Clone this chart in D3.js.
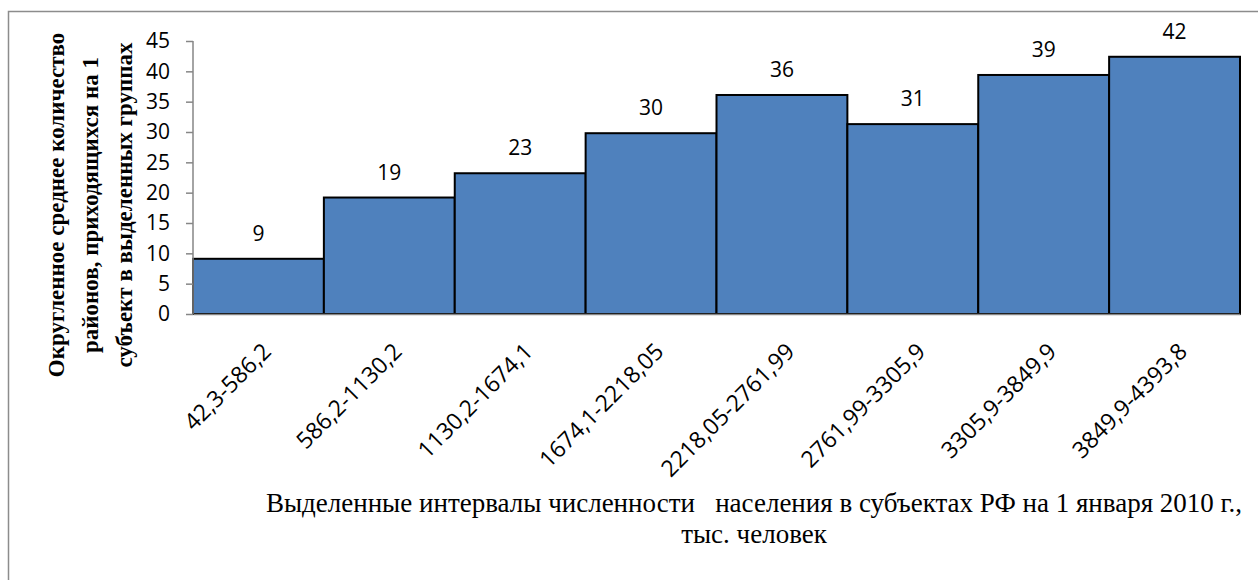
<html>
<head>
    <meta charset="utf-8">
    <script src="https://d3js.org/d3.v7.min.js"></script>
    <style>
        body { margin: 0; background: #fff; }
    </style>
</head>

<body>
    <div id="cont"></div>

    <script>
        // data
        var categories = ["42,3-586,2", "586,2-1130,2", "1130,2-1674,1", "1674,1-2218,05",
                          "2218,05-2761,99", "2761,99-3305,9", "3305,9-3849,9", "3849,9-4393,8"];
        var values = [9.1, 19.2, 23.2, 29.8, 36.1, 31.3, 39.4, 42.4];
        var yTicks = [0, 5, 10, 15, 20, 25, 30, 35, 40, 45];
        var yTitle = ["Округленное среднее количество", "районов, приходящихся на 1", "субъект в выделенных группах"];
        var xTitle = ["Выделенные интервалы численности\u00a0\u00a0\u00a0населения в субъектах РФ на 1 января 2010 г.,", "тыс. человек"];

        var W = 1258, H = 580;
        var plotL = 193, plotR = 1240, plotT = 41, plotB = 314;

        var svg = d3.select("#cont").append("svg")
            .attr("width", W)
            .attr("height", H);

        // chart frame
        svg.append("rect")
            .attr("x", 8.5).attr("y", 11.5)
            .attr("width", W + 20).attr("height", H + 20)
            .attr("fill", "none")
            .attr("stroke", "#8c8c8c")
            .attr("stroke-width", 1.5);

        var x = d3.scaleBand().domain(categories).range([plotL, plotR]).padding(0);
        var y = d3.scaleLinear().domain([0, 45]).range([plotB, plotT]);

        // bars
        svg.selectAll(".bar").data(values).enter()
            .append("rect").attr("class", "bar")
            .attr("x", function (d, i) { return x(categories[i]); })
            .attr("y", function (d) { return y(d); })
            .attr("width", x.bandwidth())
            .attr("height", function (d) { return y(0) - y(d); })
            .attr("fill", "#4f81bd")
            .attr("stroke", "#000")
            .attr("stroke-width", 2);

        // y axis
        var yAxis = svg.append("g")
            .attr("transform", "translate(" + plotL + ",0)")
            .call(d3.axisLeft(y).tickValues(yTicks).tickSize(7).tickPadding(16));
        yAxis.selectAll("line, path").attr("stroke", "#868686").attr("stroke-width", 1.5);
        yAxis.select(".domain").attr("d", "M0," + plotT + "V" + plotB);
        yAxis.selectAll("text")
            .attr("font-family", "'Open Sans', sans-serif")
            .attr("font-size", 21)
            .attr("fill", "#000");

        // x axis line
        var xAxis = svg.append("g")
            .attr("transform", "translate(0," + plotB + ")")
            .call(d3.axisBottom(x).tickSize(0).tickFormat(""));
        xAxis.select(".domain").attr("stroke", "#868686").attr("stroke-width", 1.5);

        // rotated category labels
        svg.selectAll(".xlab").data(categories).enter()
            .append("text").attr("class", "xlab")
            .attr("transform", function (d) {
                return "translate(" + (x(d) + x.bandwidth() / 2 + 14) + "," + (plotB + 39) + ") rotate(-45)";
            })
            .attr("text-anchor", "end")
            .attr("font-family", "'Open Sans', sans-serif")
            .attr("font-size", 23)
            .attr("fill", "#000")
            .text(function (d) { return d; });

        // data labels
        svg.selectAll(".vlab").data(values).enter()
            .append("text").attr("class", "vlab")
            .attr("x", function (d, i) { return x(categories[i]) + x.bandwidth() / 2; })
            .attr("y", function (d) { return y(d) - 18; })
            .attr("text-anchor", "middle")
            .attr("font-family", "'Open Sans', sans-serif")
            .attr("font-size", 21)
            .attr("fill", "#000")
            .text(function (d) { return Math.round(d); });

        // y title
        var yt = svg.append("text")
            .attr("transform", "translate(64,205) rotate(-90)")
            .attr("text-anchor", "middle")
            .attr("font-family", "'Liberation Serif', serif")
            .attr("font-weight", "bold")
            .attr("font-size", 23)
            .attr("fill", "#000");
        yt.selectAll("tspan").data(yTitle).enter()
            .append("tspan")
            .attr("x", 0)
            .attr("dy", function (d, i) { return i == 0 ? 0 : 34; })
            .text(function (d) { return d; });

        // x title
        var xt = svg.append("text")
            .attr("x", 754).attr("y", 512)
            .attr("text-anchor", "middle")
            .attr("font-family", "'Liberation Serif', serif")
            .attr("font-size", 27)
            .attr("fill", "#000");
        xt.selectAll("tspan").data(xTitle).enter()
            .append("tspan")
            .attr("x", 754)
            .attr("dy", function (d, i) { return i == 0 ? 0 : 31; })
            .text(function (d) { return d; });
    </script>
</body>
</html>
